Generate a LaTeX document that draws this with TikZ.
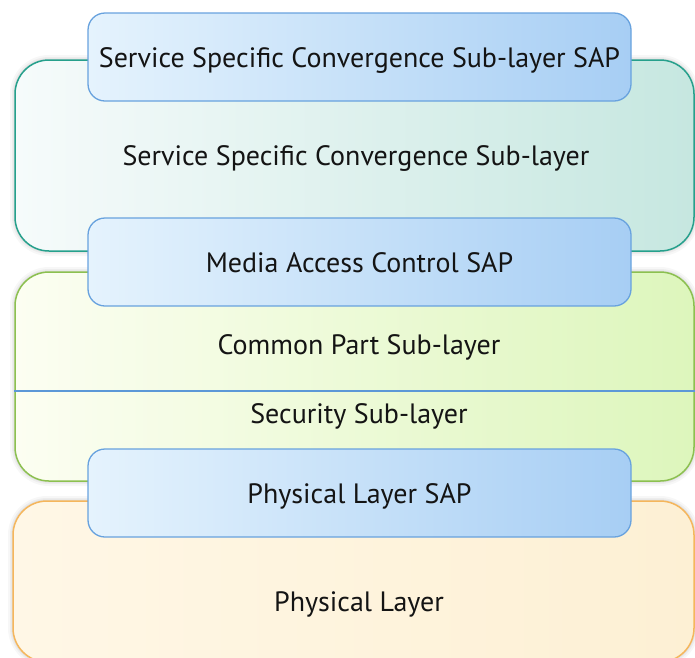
\documentclass[tikz,border=0pt]{standalone}
\usepackage{fontspec}
\setmainfont{PT Sans}
\definecolor{tealline}{RGB}{38,160,140}
\definecolor{tealL}{HTML}{F6FBFB}
\definecolor{tealR}{HTML}{C6E7E0}
\definecolor{greenline}{RGB}{140,192,80}
\definecolor{greenL}{HTML}{FCFEF2}
\definecolor{greenR}{HTML}{DDF6BC}
\definecolor{orangeline}{RGB}{245,182,92}
\definecolor{orangeL}{HTML}{FFF7E6}
\definecolor{orangeR}{HTML}{FDF0D4}
\definecolor{sapline}{RGB}{104,162,222}
\definecolor{sapL}{HTML}{E5F3FD}
\definecolor{sapR}{HTML}{A7CEF4}
\definecolor{sepline}{RGB}{92,152,215}
\definecolor{ink}{HTML}{141414}
\tikzset{
  % soft grey glow around the layer outlines
  halo/.style={
    preaction={draw=black, draw opacity=0.03, line width=10pt},
    preaction={draw=black, draw opacity=0.04, line width=6pt},
    preaction={draw=black, draw opacity=0.05, line width=3pt}},
  layerbox/.style={halo, rounded corners=34pt, line width=1.5pt, inner sep=0pt},
  sapbox/.style={draw=sapline, line width=1.3pt, rounded corners=17pt,
    left color=sapL, right color=sapR, minimum width=543pt, minimum height=88pt,
    inner sep=0pt},
  label/.style={text=ink, font=\fontsize{28}{32}\selectfont, inner sep=0pt}
}
\begin{document}
\begin{tikzpicture}[x=1pt,y=-1pt]
\useasboundingbox (0,0) rectangle (695,657);
% layer boxes
\node[layerbox, draw=tealline, left color=tealL, right color=tealR,
  minimum width=679pt, minimum height=191pt] (ssc) at (354.5,155.5) {};
\node[layerbox, draw=greenline, left color=greenL, right color=greenR,
  minimum width=679pt, minimum height=209pt] (cps) at (354.5,376.5) {};
\node[layerbox, draw=orangeline, left color=orangeL, right color=orangeR,
  minimum width=681pt, minimum height=161pt] (phy) at (353.5,581.5) {};
% separator between common part and security sub-layers
\coordinate (sepy) at (0,391);
\draw[sepline, line width=1.2pt] (cps.west |- sepy) -- (cps.east |- sepy);
% layer labels
\node[label, anchor=base] (t1) at (356,165) {Service Specific Convergence Sub-layer};
\node[label, anchor=base] (t2) at (359,354) {Common Part Sub-layer};
\node[label, anchor=base] (t3) at (359,423) {Security Sub-layer};
\node[label, anchor=base] (t4) at (359,611) {Physical Layer};
% service access points
\node[sapbox] (sap1) at (359.5,57) {};
\node[sapbox] (sap2) at (359.5,262) {};
\node[sapbox] (sap3) at (359.5,493) {};
\node[label, anchor=base] (s1) at (359.5,67.5) {Service Specific Convergence Sub-layer SAP};
\node[label, anchor=base] (s2) at (359.5,272.5) {Media Access Control SAP};
\node[label, anchor=base] (s3) at (359.5,503) {Physical Layer SAP};
\end{tikzpicture}
\end{document}
